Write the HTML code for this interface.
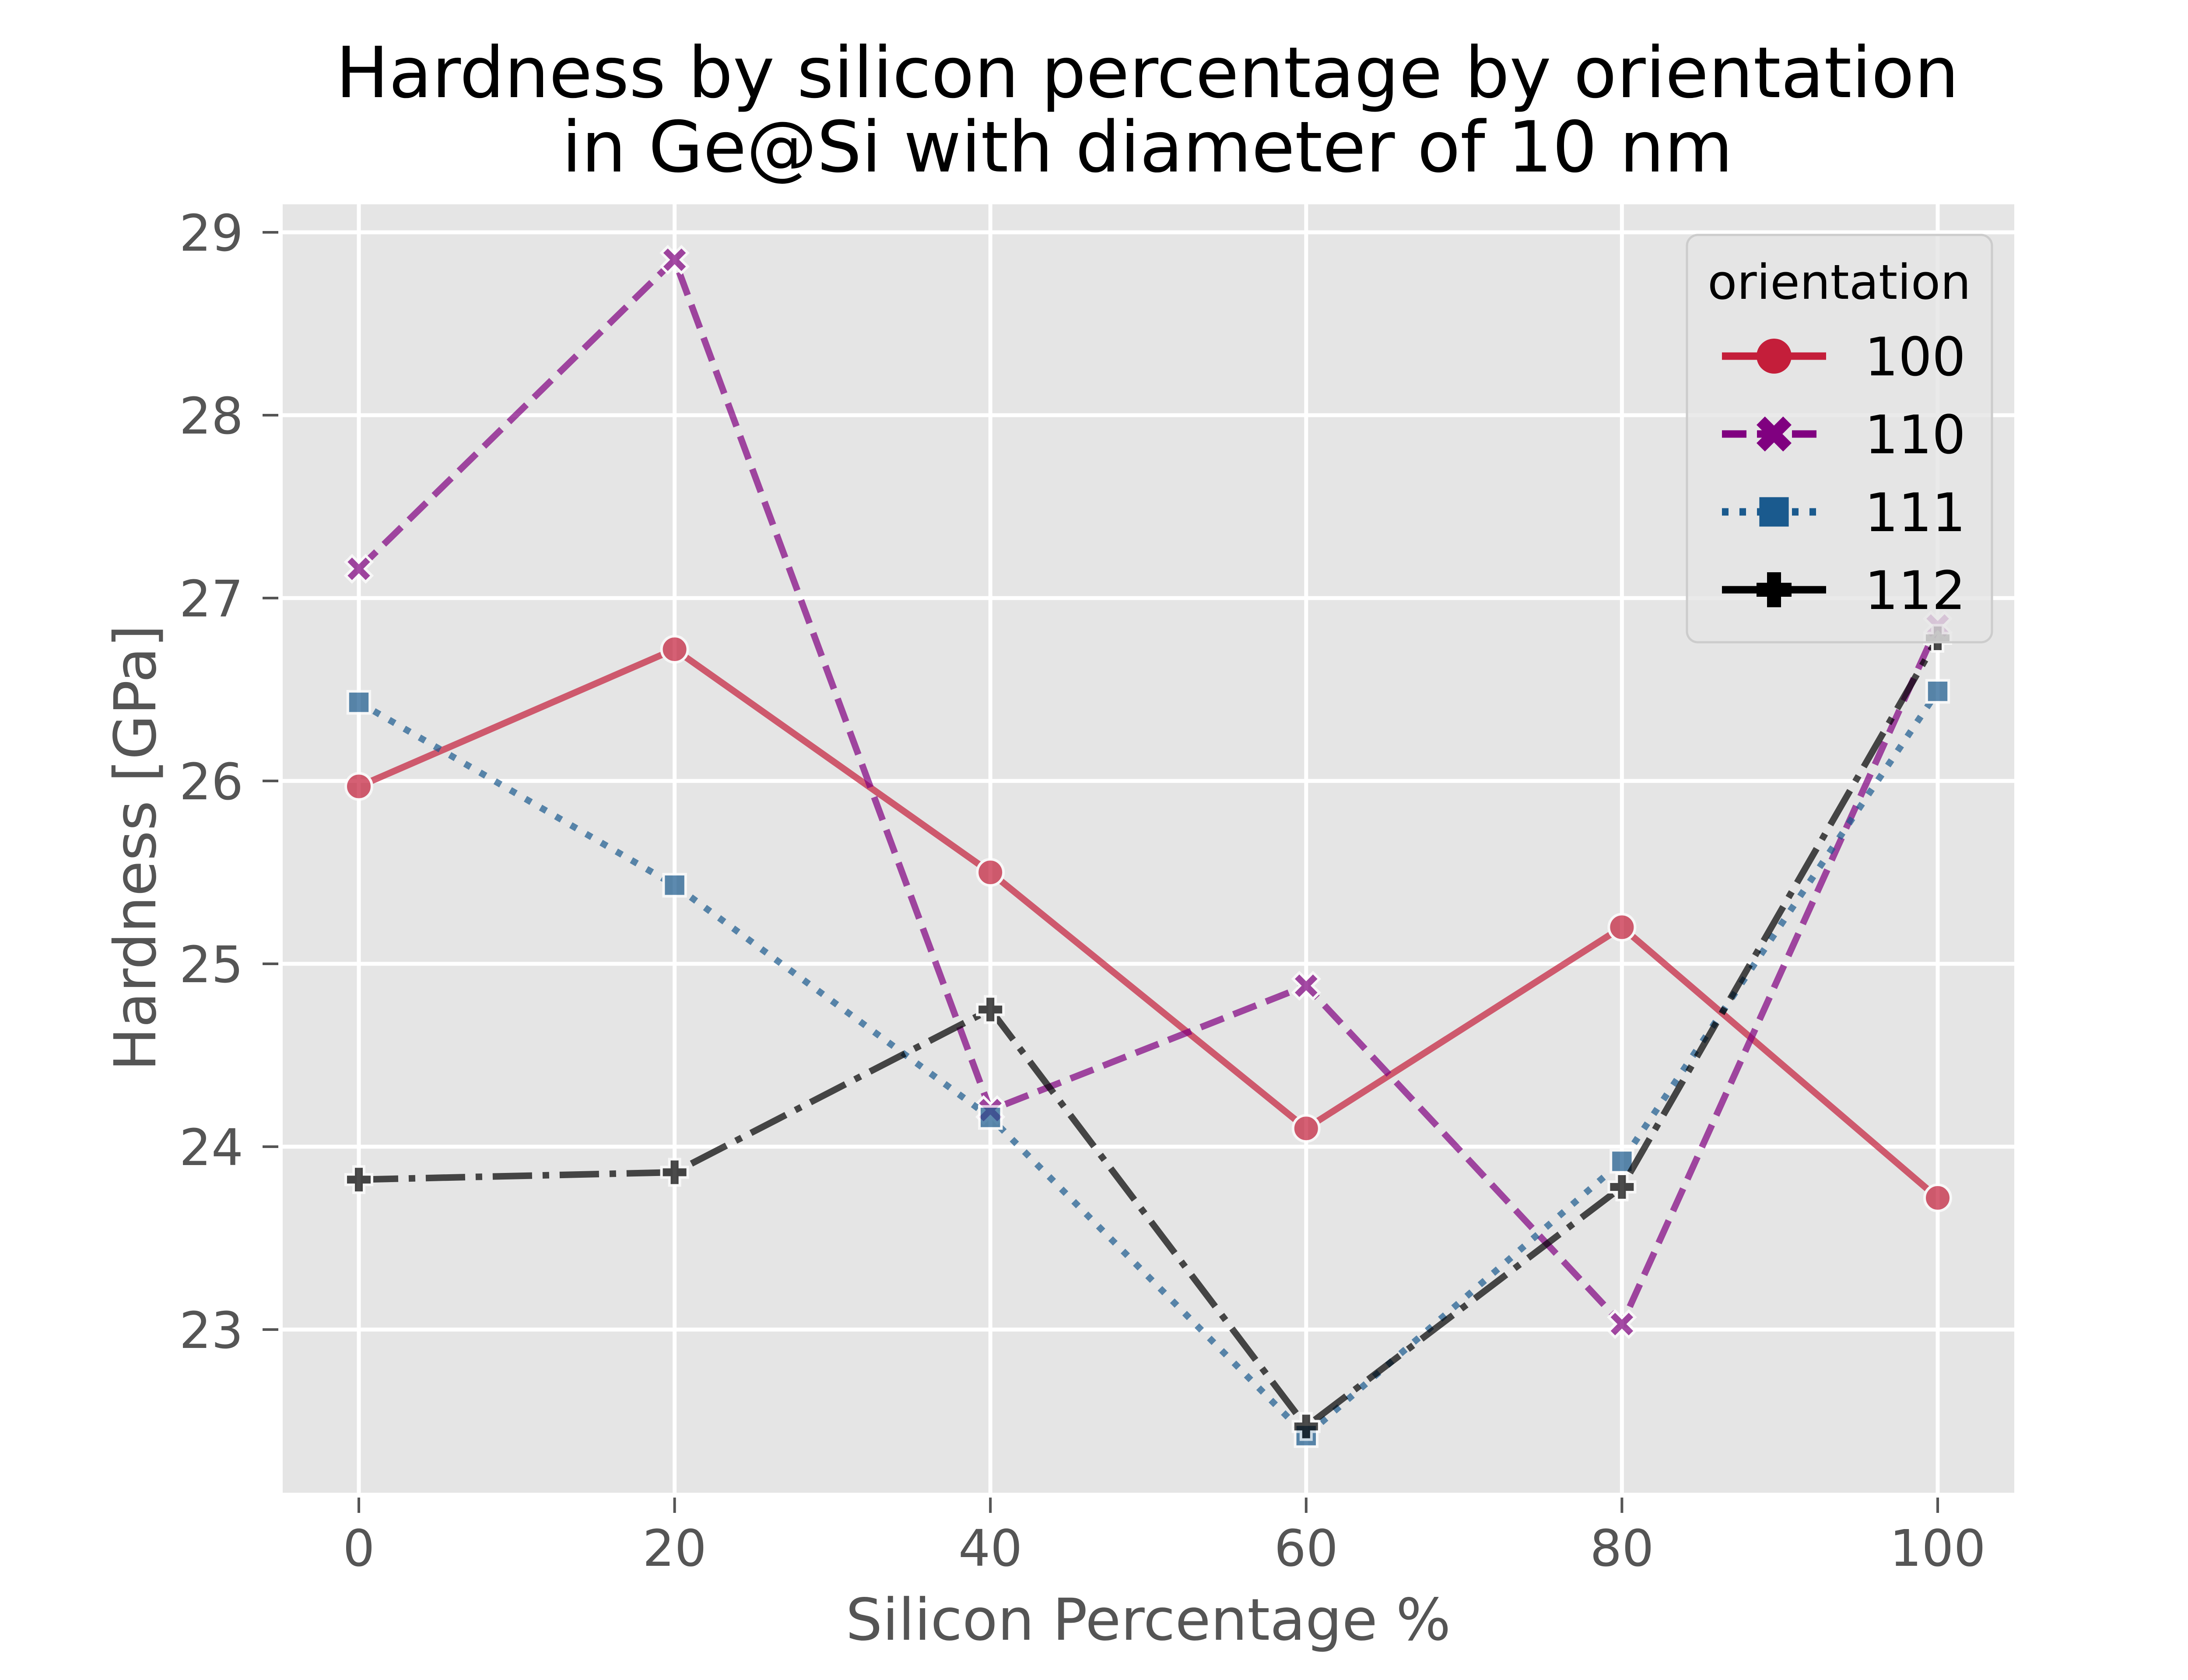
<!DOCTYPE html>
<html><head><meta charset="utf-8"><style>
html,body{margin:0;padding:0;background:#fff}
svg{display:block;font-family:"DejaVu Sans","Liberation Sans",sans-serif}
</style></head><body>
<svg id="chart" width="5120" height="3840" viewBox="0 0 5120 3840" xmlns="http://www.w3.org/2000/svg">
<rect x="0" y="0" width="5120" height="3840" fill="#fff"/>
<text x="2622" y="222" font-size="161" text-anchor="middle" fill="#000">Hardness by silicon percentage by orientation</text>
<text x="2622" y="392" font-size="161" text-anchor="middle" fill="#000">in Ge@Si with diameter of 10 nm</text>
<rect x="646" y="467" width="3957" height="2945" fill="#e5e5e5"/>
<g id="grid"></g>
<g id="series"></g>
<g id="axes"></g>
<text x="2624" y="3748" font-size="132" text-anchor="middle" fill="#555">Silicon Percentage %</text>
<text transform="translate(355,1938) rotate(-90)" font-size="132" text-anchor="middle" fill="#555">Hardness [GPa]</text>
<g>
<rect x="3855" y="537" width="697" height="931" rx="25" fill="#e5e5e5" fill-opacity="0.8" stroke="#cccccc" stroke-width="5"/>
<text x="4203" y="683" font-size="110" text-anchor="middle" fill="#000">orientation</text>
<g id="legend-items"></g>
</g>
</svg>
<script>
const categories = [0, 20, 40, 60, 80, 100];
const seriesNames = ["100", "110", "111", "112"];
const values100 = [25.97, 26.72, 25.50, 24.10, 25.20, 23.72];
const values110 = [27.16, 28.85, 24.20, 24.88, 23.03, 26.85];
const values111 = [26.43, 25.43, 24.16, 22.42, 23.92, 26.49];
const values112 = [23.82, 23.86, 24.75, 22.47, 23.78, 26.78];
const xTicks = [0, 20, 40, 60, 80, 100];
const yTicks = [23, 24, 25, 26, 27, 28, 29];

const NS = "http://www.w3.org/2000/svg";
function xs(v){ return 820 + v * 36.08; }
function ys(v){ return 531 + (29 - v) * 418; }
function mk(tag, attrs, parent){
  const e = document.createElementNS(NS, tag);
  for (const k in attrs) e.setAttribute(k, attrs[k]);
  parent.appendChild(e); return e;
}
const grid = document.getElementById('grid');
const axes = document.getElementById('axes');
xTicks.forEach(t => {
  const l = mk('line', {x1: xs(t), x2: xs(t), y1: 467, y2: 3412, stroke: '#fff', 'stroke-width': 9}, grid);
  
  
  mk('line', {x1: xs(t), x2: xs(t), y1: 3423, y2: 3458, stroke: '#555', 'stroke-width': 6}, axes);
  const tx = mk('text', {x: xs(t), y: 3579, 'font-size': 115, 'text-anchor': 'middle', fill: '#555'}, axes);
  tx.textContent = t;
  
  
});
yTicks.forEach(t => {
  const l = mk('line', {x1: 646, x2: 4603, y1: ys(t), y2: ys(t), stroke: '#fff', 'stroke-width': 9}, grid);
  
  
  mk('line', {x1: 600, x2: 636, y1: ys(t), y2: ys(t), stroke: '#555', 'stroke-width': 6}, axes);
  const tx = mk('text', {x: 556, y: ys(t) + 42, 'font-size': 115, 'text-anchor': 'end', fill: '#555'}, axes);
  tx.textContent = t;
  
  
});

const styles = [
  {vals: values100, color: '#c41e3a', dash: '', marker: 'circle'},
  {vals: values110, color: '#800080', dash: '56,24', marker: 'x'},
  {vals: values111, color: '#1a5a8e', dash: '15,25', marker: 'square'},
  {vals: values112, color: '#000000', dash: '90,24,15,24', marker: 'plus'}
];
function marker(g, type, cx, cy, color, s, stroke){
  let e;
  if (type === 'circle') e = mk('circle', {cx, cy, r: s*0.5}, g);
  else if (type === 'square') e = mk('rect', {x: cx - s*0.42, y: cy - s*0.42, width: s*0.84, height: s*0.84}, g);
  else if (type === 'x') {
    const a = s*0.5, b = s*0.24;
    e = mk('path', {d: `M${cx-a},${cy-a+b} L${cx-a+b},${cy-a} L${cx},${cy-b} L${cx+a-b},${cy-a} L${cx+a},${cy-a+b} L${cx+b},${cy} L${cx+a},${cy+a-b} L${cx+a-b},${cy+a} L${cx},${cy+b} L${cx-a+b},${cy+a} L${cx-a},${cy+a-b} L${cx-b},${cy} Z`}, g);
  } else {
    const a = s*0.5, b = s*0.2;
    e = mk('path', {d: `M${cx-b},${cy-a} H${cx+b} V${cy-b} H${cx+a} V${cy+b} H${cx+b} V${cy+a} H${cx-b} V${cy+b} H${cx-a} V${cy-b} H${cx-b} Z`}, g);
  }
  e.setAttribute('fill', color);
  if (stroke) { e.setAttribute('stroke', '#fff'); e.setAttribute('stroke-width', 6); }
  return e;
}
const sg = document.getElementById('series');
styles.forEach((st, i) => {
  const g = mk('g', {opacity: 0.7}, sg);
  
  
  const pts = st.vals.map((v, j) => xs(categories[j]) + ',' + ys(v)).join(' ');
  const pl = mk('polyline', {points: pts, fill: 'none', stroke: st.color, 'stroke-width': 15}, g);
  if (st.dash) pl.setAttribute('stroke-dasharray', st.dash);
  
  
  st.vals.forEach((v, j) => {
    const m = marker(g, st.marker, xs(categories[j]), ys(v), st.color, 60, true);
    
    
  });
});
const lg = document.getElementById('legend-items');
styles.forEach((st, i) => {
  const y = 814 + i * 178;
  const g = mk('g', {}, lg);
  
  
  const l = mk('line', {x1: 3935, x2: 4173, y1: y, y2: y, stroke: st.color, 'stroke-width': 17}, g);
  if (st.dash) l.setAttribute('stroke-dasharray', st.dash);
  marker(g, st.marker, 4054, y, st.color, 80, false);
  const t = mk('text', {x: 4261, y: y + 44, 'font-size': 121, fill: '#000'}, g);
  t.textContent = seriesNames[i];
});
</script>
</body></html>
